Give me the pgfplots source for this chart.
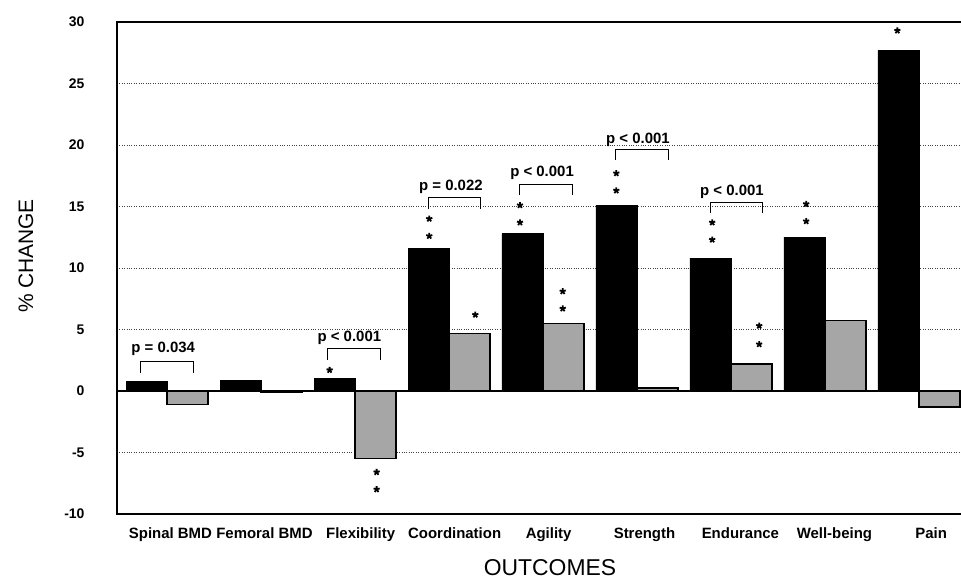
\documentclass[border=0pt]{standalone}
\usepackage{fontspec}
\setmainfont{Liberation Sans}
\usepackage{pgfplots}
\pgfplotsset{compat=1.18}

\begin{document}
\begin{tikzpicture}
\begin{axis}[
  name=ax,
  scale only axis, width=844bp, height=492bp,
  xmin=-0.532, xmax=8.447, ymin=-10, ymax=30,
  axis line style={draw=none},
  ytick={-10,-5,...,30},
  ymajorgrids, grid style={dotted, black!75, line width=0.9pt},
  extra y ticks={0}, extra y tick labels={},
  extra y tick style={grid style={solid, black, line width=1.6pt}},
  major tick length=0pt,
  /pgf/number format/assume math mode=true,
  yticklabel style={font=\fontsize{14}{16}\selectfont\bfseries, xshift=-29bp},
  xtick={0.037,1.037,2.06,3.06,4.06,5.08,6.10,7.10,8.13},
  xticklabels={Spinal BMD, Femoral BMD, Flexibility, Coordination, Agility, Strength, Endurance, Well-being, Pain},
  xticklabel style={font=\fontsize{15}{18}\selectfont\bfseries, yshift=-10bp},
]
% black bars
\addplot[ybar, bar width=41bp, bar shift=-20.5bp, fill=black, draw=black] coordinates {
  (0,0.8) (1,0.87) (2,1.0) (3,11.6) (4,12.8) (5,15.1) (6,10.8) (7,12.5) (8,27.7)};
% gray bars
\addplot[ybar, bar width=41bp, bar shift=20.5bp, fill=black!35, draw=black, line width=1.2pt] coordinates {
  (0,-1.1) (1,-0.15) (2,-5.5) (3,4.7) (4,5.5) (5,0.25) (6,2.2) (7,5.7) (8,-1.3)};
% significance stars
\addplot[only marks, mark=star, mark size=3.2bp, mark options={line width=1.8pt, black}] coordinates {
  (1.73,1.7)
  (2.79,14.0) (2.79,12.6)
  (3.755,15.1) (3.755,13.7)
  (4.78,17.7) (4.78,16.3)
  (5.80,13.7) (5.80,12.3)
  (6.80,15.2) (6.80,13.8)
  (7.77,29.3)
  (2.23,-6.6) (2.23,-8.0)
  (3.28,6.2)
  (4.21,8.1) (4.21,6.7)
  (6.30,5.3) (6.30,3.8)};
% brackets
\addplot[black, line width=1pt] coordinates {(-0.287,1.46) (-0.287,2.4) (0.28,2.4) (0.28,1.46)};
\addplot[black, line width=1pt] coordinates {(1.71,2.5) (1.71,3.44) (2.27,3.44) (2.27,2.5)};
\addplot[black, line width=1pt] coordinates {(2.78,14.8) (2.78,15.7) (3.34,15.7) (3.34,14.8)};
\addplot[black, line width=1pt] coordinates {(3.755,15.9) (3.755,16.8) (4.316,16.8) (4.316,15.9)};
\addplot[black, line width=1pt] coordinates {(4.766,18.8) (4.766,19.6) (5.337,19.6) (5.337,18.8)};
\addplot[black, line width=1pt] coordinates {(5.784,14.5) (5.784,15.3) (6.337,15.3) (6.337,14.5)};
% p-value labels
\begin{scope}[every node/.style={anchor=base, font=\fontsize{15}{18}\selectfont\bfseries, inner sep=0pt}]
\node at (axis cs:-0.04,3.1) {p = 0.034};
\node at (axis cs:1.94,4.0) {p < 0.001};
\node at (axis cs:3.02,16.3) {p = 0.022};
\node at (axis cs:3.99,17.4) {p < 0.001};
\node at (axis cs:5.01,20.1) {p < 0.001};
\node at (axis cs:6.01,15.9) {p < 0.001};
\end{scope}
\end{axis}
\draw[line width=1.4pt] (ax.south east) -- (ax.south west) -- (ax.north west) -- (ax.north east);
\node[rotate=90, font=\fontsize{21}{24}\selectfont] at ([shift={(-91bp,258bp)}]ax.south west) {\% CHANGE};
\node[font=\fontsize{23}{26}\selectfont] at ([shift={(433bp,-53.5bp)}]ax.south west) {OUTCOMES};
\pgfresetboundingbox
\path[use as bounding box] ([shift={(-117bp,-65bp)}]ax.south west) rectangle ([shift={(0bp,22bp)}]ax.north east);
\end{tikzpicture}
\end{document}
